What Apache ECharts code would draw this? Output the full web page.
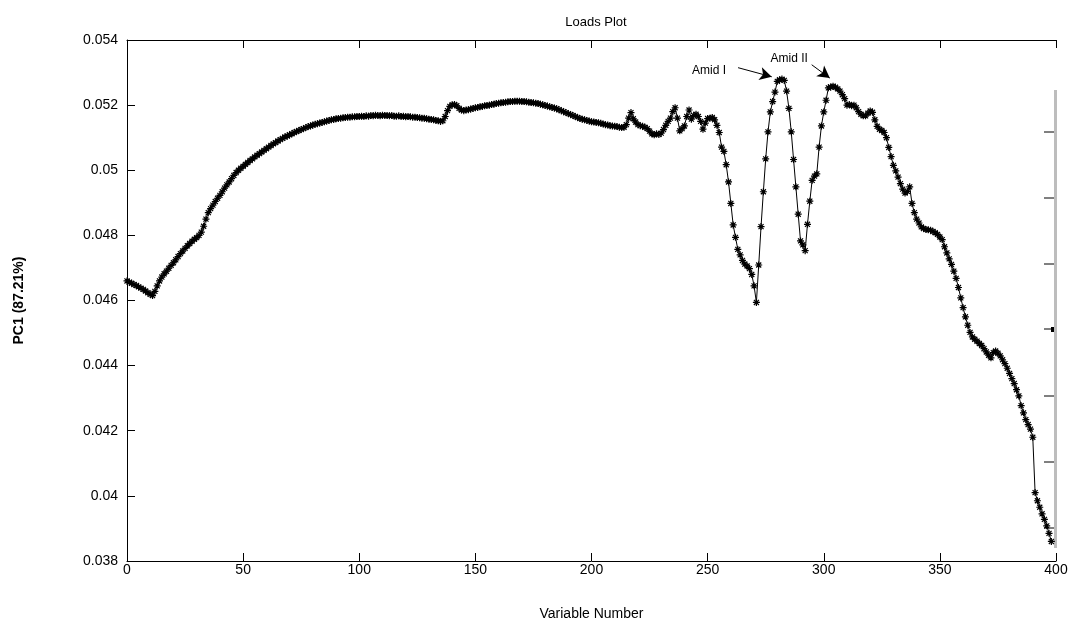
<!DOCTYPE html>
<html>
<head>
<meta charset="utf-8">
<script src="https://cdn.jsdelivr.net/npm/echarts@6/dist/echarts.min.js"></script>
<style>html,body{margin:0;padding:0;background:#fff}#c{width:1075px;height:626px}</style>
</head>
<body>
<div id="c"></div>
<script>
// PC1 loadings, variable numbers 0..398
const loads = [
0.04660,0.04656,0.04653,0.04649,0.04646,0.04642,0.04638,0.04634,0.04629,0.04624,
0.04619,0.04615,0.04628,0.04645,0.04660,0.04672,0.04682,0.04690,0.04699,0.04708,
0.04716,0.04725,0.04735,0.04744,0.04752,0.04760,0.04768,0.04775,0.04782,0.04788,
0.04793,0.04800,0.04810,0.04828,0.04850,0.04870,0.04882,0.04893,0.04904,0.04914,
0.04923,0.04934,0.04945,0.04955,0.04964,0.04974,0.04984,0.04993,0.05000,0.05006,
0.05012,0.05018,0.05024,0.05030,0.05035,0.05041,0.05046,0.05051,0.05056,0.05061,
0.05066,0.05071,0.05076,0.05081,0.05085,0.05090,0.05094,0.05098,0.05102,0.05105,
0.05109,0.05112,0.05116,0.05119,0.05122,0.05125,0.05128,0.05131,0.05134,0.05136,
0.05139,0.05141,0.05143,0.05145,0.05147,0.05149,0.05151,0.05153,0.05155,0.05156,
0.05158,0.05159,0.05160,0.05161,0.05162,0.05163,0.05163,0.05164,0.05164,0.05165,
0.05165,0.05166,0.05165,0.05167,0.05166,0.05168,0.05167,0.05169,0.05168,0.05167,
0.05169,0.05168,0.05168,0.05167,0.05168,0.05166,0.05166,0.05167,0.05165,0.05166,
0.05164,0.05165,0.05164,0.05163,0.05163,0.05162,0.05161,0.05160,0.05160,0.05158,
0.05157,0.05156,0.05155,0.05153,0.05152,0.05150,0.05152,0.05165,0.05183,0.05196,
0.05201,0.05202,0.05198,0.05190,0.05185,0.05183,0.05185,0.05186,0.05188,0.05190,
0.05192,0.05193,0.05195,0.05196,0.05198,0.05199,0.05200,0.05202,0.05203,0.05205,
0.05206,0.05207,0.05208,0.05209,0.05210,0.05211,0.05211,0.05212,0.05212,0.05212,
0.05211,0.05211,0.05210,0.05209,0.05208,0.05207,0.05206,0.05205,0.05203,0.05201,
0.05199,0.05197,0.05195,0.05193,0.05191,0.05189,0.05186,0.05183,0.05180,0.05177,
0.05174,0.05171,0.05168,0.05165,0.05162,0.05159,0.05157,0.05155,0.05153,0.05151,
0.05149,0.05148,0.05147,0.05146,0.05144,0.05142,0.05140,0.05139,0.05137,0.05136,
0.05135,0.05134,0.05132,0.05131,0.05132,0.05140,0.05160,0.05177,0.05158,0.05148,
0.05140,0.05137,0.05135,0.05132,0.05128,0.05120,0.05112,0.05109,0.05112,0.05110,
0.05114,0.05125,0.05138,0.05150,0.05160,0.05180,0.05192,0.05160,0.05121,0.05128,
0.05136,0.05165,0.05185,0.05157,0.05168,0.05172,0.05165,0.05150,0.05126,0.05145,
0.05159,0.05160,0.05162,0.05155,0.05138,0.05116,0.05071,0.05058,0.05017,0.04964,
0.04898,0.04832,0.04794,0.04757,0.04740,0.04723,0.04712,0.04706,0.04698,0.04680,
0.04645,0.04594,0.04709,0.04827,0.04934,0.05035,0.05118,0.05179,0.05211,0.05240,
0.05273,0.05278,0.05280,0.05276,0.05243,0.05190,0.05118,0.05033,0.04949,0.04865,
0.04783,0.04771,0.04753,0.04834,0.04905,0.04969,0.04982,0.04989,0.05071,0.05136,
0.05179,0.05215,0.05253,0.05256,0.05258,0.05255,0.05250,0.05243,0.05232,0.05220,
0.05200,0.05202,0.05198,0.05200,0.05192,0.05180,0.05172,0.05167,0.05167,0.05175,
0.05182,0.05178,0.05155,0.05135,0.05126,0.05122,0.05116,0.05100,0.05070,0.05042,
0.05015,0.04998,0.04979,0.04959,0.04942,0.04930,0.04935,0.04949,0.04898,0.04870,
0.04850,0.04838,0.04826,0.04821,0.04818,0.04817,0.04816,0.04812,0.04808,0.04803,
0.04795,0.04787,0.04765,0.04746,0.04728,0.04711,0.04690,0.04668,0.04640,0.04608,
0.04578,0.04550,0.04524,0.04502,0.04488,0.04481,0.04475,0.04468,0.04462,0.04452,
0.04442,0.04432,0.04424,0.04440,0.04445,0.04438,0.04430,0.04418,0.04406,0.04392,
0.04376,0.04360,0.04345,0.04326,0.04307,0.04277,0.04255,0.04234,0.04219,0.04205,
0.04180,0.04010,0.03985,0.03965,0.03945,0.03928,0.03908,0.03885,0.03860
];
const xTicks = [0, 50, 100, 150, 200, 250, 300, 350, 400];
const yTicks = [0.038, 0.04, 0.042, 0.044, 0.046, 0.048, 0.05, 0.052, 0.054];
const annotLabels = ['Amid I', 'Amid II'];
const annotTextPos = [[243.1, 0.05307], [276.9, 0.05344]];
const annotArrows = [
  [[263.1, 0.05315], [277.6, 0.05287]],
  [[294.8, 0.05324], [302.6, 0.05283]]
];

const FONT = 'Liberation Sans, Arial, sans-serif';
const chart = echarts.init(document.getElementById('c'), null, {renderer: 'canvas'});
const star = 'path://M0,-5L0,5M-5,0L5,0M-3.6,-3.6L3.6,3.6M-3.6,3.6L3.6,-3.6';

chart.setOption({
  animation: false,
  backgroundColor: '#fff',
  title: {
    text: 'Loads Plot', left: 591, top: 11, textAlign: 'center',
    textStyle: {fontFamily: FONT, fontSize: 13, fontWeight: 'normal', color: '#000'}
  },
  grid: {left: 127, right: 19, top: 40, bottom: 60},
  xAxis: [{
    type: 'value', min: xTicks[0], max: xTicks[xTicks.length - 1], interval: 50,
    name: 'Variable Number', nameLocation: 'middle', nameGap: 46,
    nameTextStyle: {fontFamily: FONT, fontSize: 14, color: '#000'},
    axisLine: {show: true, lineStyle: {color: '#000', width: 1}},
    axisTick: {show: true, inside: true, length: 8, lineStyle: {color: '#000'}},
    axisLabel: {fontFamily: FONT, fontSize: 14, color: '#000', margin: 2},
    splitLine: {show: false}
  }, {
    type: 'value', position: 'top', min: xTicks[0], max: xTicks[xTicks.length - 1], interval: 50,
    axisLine: {show: true, lineStyle: {color: '#000', width: 1}},
    axisTick: {show: true, inside: true, length: 8, lineStyle: {color: '#000'}},
    axisLabel: {show: false}, splitLine: {show: false}
  }],
  yAxis: {
    type: 'value', min: yTicks[0], max: yTicks[yTicks.length - 1], interval: 0.002,
    name: 'PC1 (87.21%)', nameLocation: 'middle', nameGap: 101,
    nameTextStyle: {fontFamily: FONT, fontSize: 14, fontWeight: 'bold', color: '#000'},
    axisLine: {show: true, lineStyle: {color: '#000', width: 1}},
    axisTick: {show: true, inside: true, length: 8, lineStyle: {color: '#000'}},
    axisLabel: {fontFamily: FONT, fontSize: 14, color: '#000', margin: 9,
      formatter: v => String(+v.toFixed(3))},
    splitLine: {show: false}
  },
  series: [{
    type: 'line',
    data: loads.map((v, i) => [i, v]),
    symbol: star, symbolSize: 7, showSymbol: true,
    itemStyle: {color: 'rgba(0,0,0,0)', borderColor: '#000', borderWidth: 1.2},
    lineStyle: {color: '#000', width: 1},
    emphasis: {disabled: true},
    markLine: {
      silent: true, symbol: ['none', 'arrow'], symbolSize: [10, 12],
      lineStyle: {color: '#000', width: 1, type: 'solid'},
      label: {show: false},
      data: annotArrows.map(a => [{coord: a[0]}, {coord: a[1]}])
    },
    markPoint: {
      silent: true, symbol: 'circle', symbolSize: 1,
      itemStyle: {color: 'rgba(0,0,0,0)'},
      label: {show: true, position: 'right', distance: 0,
        fontFamily: FONT, fontSize: 12, color: '#000', formatter: p => p.name},
      data: annotLabels.map((n, k) => ({name: n, coord: annotTextPos[k]}))
    }
  }],
  graphic: [
    {type: 'rect', shape: {x: 1054, y: 90, width: 3, height: 458}, style: {fill: '#bdbdbd'}, z: 1},
    {type: 'group', children: [132, 198, 264, 329, 396, 462, 528].map(y => ({
      type: 'line', shape: {x1: 1044, y1: y, x2: 1054, y2: y}, style: {stroke: '#000', lineWidth: 1}
    }))},
    {type: 'rect', shape: {x: 1051, y: 327, width: 5, height: 5}, style: {fill: '#000'}}
  ]
});
</script>
</body>
</html>
